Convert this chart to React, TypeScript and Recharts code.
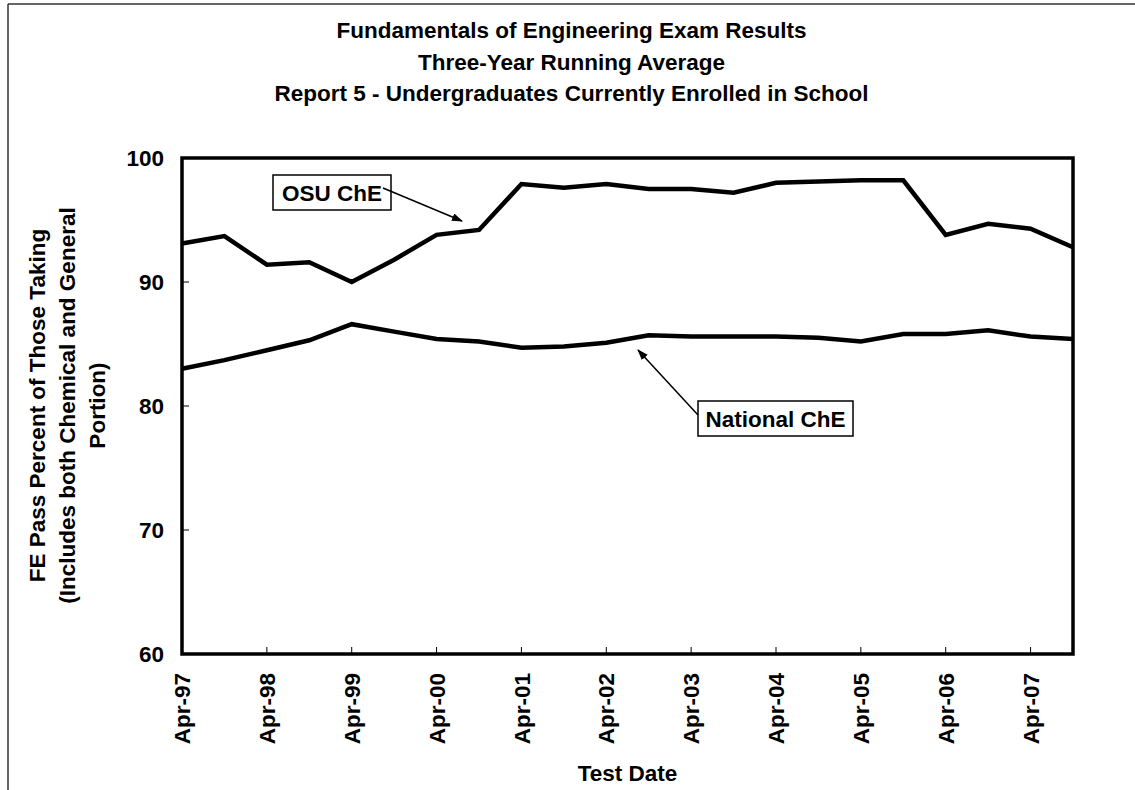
import React from 'react';
import { LineChart, Line, XAxis, YAxis, ReferenceArea } from 'recharts';

const testDates = [
  'Apr-97', 'Oct-97', 'Apr-98', 'Oct-98', 'Apr-99', 'Oct-99', 'Apr-00', 'Oct-00',
  'Apr-01', 'Oct-01', 'Apr-02', 'Oct-02', 'Apr-03', 'Oct-03', 'Apr-04', 'Oct-04',
  'Apr-05', 'Oct-05', 'Apr-06', 'Oct-06', 'Apr-07', 'Oct-07',
];

const osuChE = [
  93.1, 93.7, 91.4, 91.6, 90.0, 91.8, 93.8, 94.2,
  97.9, 97.6, 97.9, 97.5, 97.5, 97.2, 98.0, 98.1,
  98.2, 98.2, 93.8, 94.7, 94.3, 92.8,
];

const nationalChE = [
  83.0, 83.7, 84.5, 85.3, 86.6, 86.0, 85.4, 85.2,
  84.7, 84.8, 85.1, 85.7, 85.6, 85.6, 85.6, 85.5,
  85.2, 85.8, 85.8, 86.1, 85.6, 85.4,
];

const yTicks = [60, 70, 80, 90, 100];

const titleLines = [
  'Fundamentals of Engineering Exam Results',
  'Three-Year Running Average',
  'Report 5 - Undergraduates Currently Enrolled in School',
];

const yTitleLines = [
  'FE Pass Percent of Those Taking',
  '(Includes both Chemical and General',
  'Portion)',
];

const xTitle = 'Test Date';
const osuLabel = 'OSU ChE';
const nationalLabel = 'National ChE';

const data = testDates.map((d, i) => ({ date: d, osu: osuChE[i], national: nationalChE[i] }));

const FONT = '"Liberation Sans", Arial, Helvetica, sans-serif';
const FS = 22.5;

function XTick(props: any) {
  const { x, y, payload } = props;
  return (
    <text
      x={x}
      y={y}
      transform={`rotate(-90, ${x}, ${y})`}
      textAnchor="end"
      dy="0.36em"
      fontFamily={FONT}
      fontWeight="bold"
      fontSize={FS}
      fill="#000"
    >
      {payload.value}
    </text>
  );
}

export default function App() {
  const textStyle = { fontFamily: FONT, fontWeight: 'bold' as const, fontSize: FS, fill: '#000' };
  return (
    <div style={{ position: 'absolute', left: 0, top: 0, width: 1135, height: 790, background: '#fff' }}>
      <LineChart
        width={1135}
        height={790}
        data={data}
        margin={{ top: 158, right: 62, bottom: 0, left: 0 }}
      >
        <XAxis
          dataKey="date"
          height={136}
          interval={1}
          axisLine={false}
          tickLine={{ stroke: '#000', strokeWidth: 1 }}
          tickSize={-7}
          tickMargin={26}
          tick={<XTick />}
        />
        <YAxis
          width={182}
          domain={[60, 100]}
          ticks={yTicks}
          axisLine={false}
          tickLine={{ stroke: '#000', strokeWidth: 1 }}
          tickSize={-7}
          tickMargin={25}
          tick={{ fontFamily: FONT, fontWeight: 'bold', fontSize: FS, fill: '#000' }}
        />
        <ReferenceArea
          x1={testDates[0]}
          x2={testDates[testDates.length - 1]}
          y1={60}
          y2={100}
          fill="none"
          fillOpacity={0}
          stroke="#000"
          strokeWidth={3.5}
          ifOverflow="visible"
        />
        <Line
          type="linear"
          dataKey="osu"
          stroke="#000"
          strokeWidth={4.5}
          dot={false}
          activeDot={false}
          isAnimationActive={false}
        />
        <Line
          type="linear"
          dataKey="national"
          stroke="#000"
          strokeWidth={4.5}
          dot={false}
          activeDot={false}
          isAnimationActive={false}
        />
      </LineChart>
      <svg
        width={1135}
        height={790}
        style={{ position: 'absolute', left: 0, top: 0, pointerEvents: 'none' }}
      >
        <defs>
          <marker
            id="arrowHead"
            markerWidth={11}
            markerHeight={8}
            refX={10}
            refY={4}
            orient="auto"
            markerUnits="userSpaceOnUse"
          >
            <path d="M0,0 L11,4 L0,8 z" fill="#000" />
          </marker>
        </defs>
        <line x1={8} y1={4} x2={1135} y2={4} stroke="#333" strokeWidth={1.5} />
        <line x1={8} y1={4} x2={8} y2={790} stroke="#333" strokeWidth={1.5} />
        {titleLines.map((t, i) => (
          <text key={t} x={571.5} y={38 + i * 31.5} textAnchor="middle" style={textStyle}>
            {t}
          </text>
        ))}
        {yTitleLines.map((t, i) => (
          <text
            key={t}
            x={45 + i * 30}
            y={405.5}
            transform={`rotate(-90, ${45 + i * 30}, 405.5)`}
            textAnchor="middle"
            style={textStyle}
          >
            {t}
          </text>
        ))}
        <text x={627.5} y={781} textAnchor="middle" style={textStyle}>
          {xTitle}
        </text>
        <rect x={273} y={175} width={118} height={35} fill="#fff" stroke="#000" strokeWidth={1.5} />
        <text x={332} y={200.5} textAnchor="middle" style={textStyle}>
          {osuLabel}
        </text>
        <line x1={383} y1={188} x2={462} y2={221} stroke="#000" strokeWidth={1.5} markerEnd="url(#arrowHead)" />
        <rect x={698} y={401} width={155} height={35} fill="#fff" stroke="#000" strokeWidth={1.5} />
        <text x={775.5} y={426.5} textAnchor="middle" style={textStyle}>
          {nationalLabel}
        </text>
        <line x1={698} y1={415} x2={638} y2={350} stroke="#000" strokeWidth={1.5} markerEnd="url(#arrowHead)" />
      </svg>
    </div>
  );
}
